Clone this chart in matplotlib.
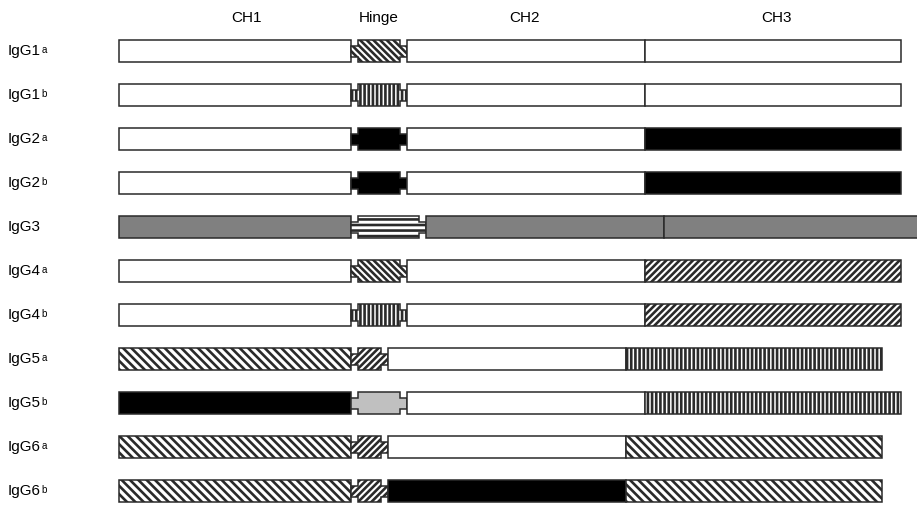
import matplotlib
matplotlib.use("Agg")
import matplotlib.pyplot as plt
from matplotlib.patches import Rectangle, Polygon

plt.rcParams['font.family'] = ['Liberation Sans', 'DejaVu Sans']
plt.rcParams['hatch.linewidth'] = 1.9

# ---- data ----
labels = ['IgG1', 'IgG1', 'IgG2', 'IgG2', 'IgG3', 'IgG4', 'IgG4',
          'IgG5', 'IgG5', 'IgG6', 'IgG6']
sups = ['a', 'b', 'a', 'b', '', 'a', 'b', 'a', 'b', 'a', 'b']
domains = ['CH1', 'Hinge', 'CH2', 'CH3']
domain_label_x = [247, 379, 525, 776]

ch1_start = [119, 119, 119, 119, 119, 119, 119, 119, 119, 119, 119]
ch1_end = [351, 351, 351, 351, 351, 351, 351, 351, 351, 351, 351]
hinge_end = [407, 407, 407, 407, 426, 407, 407, 388, 407, 388, 388]
ch2_end = [645, 645, 645, 645, 664, 645, 645, 626, 645, 626, 626]
ch3_end = [901, 901, 901, 901, 925, 901, 901, 882, 901, 882, 882]

ch1_style = ['w', 'w', 'w', 'w', 'g', 'w', 'w', 'bs', 'k', 'bs', 'bs']
hinge_style = ['bsh', 'vl', 'k', 'k', 'hl', 'bsh', 'vl', 'fs', 'lg', 'fs', 'fs']
ch2_style = ['w', 'w', 'w', 'w', 'g', 'w', 'w', 'w', 'w', 'w', 'k']
ch3_style = ['w', 'w', 'k', 'k', 'g', 'fsd', 'fsd', 'vl', 'vl', 'bs', 'bs']

# ---- styles ----
styles = {
    'w': dict(facecolor='white', hatch=None),
    'k': dict(facecolor='black', hatch=None),
    'g': dict(facecolor='#808080', hatch=None),
    'lg': dict(facecolor='#c0c0c0', hatch=None),
    'bs': dict(facecolor='white', hatch='\\' * 4),
    'bsh': dict(facecolor='white', hatch='\\' * 5),
    'fs': dict(facecolor='white', hatch='/' * 5),
    'fsd': dict(facecolor='white', hatch='/' * 5),
    'vl': dict(facecolor='white', hatch='||||'),
    'hl': dict(facecolor='white', hatch='---'),
}
EDGE = '#2a2a2a'
LW = 1.1
BAR_H = 22
TAB_H = 11
TAB_W = 7
ROW0 = 51
ROW_STEP = 44

W, H = 917, 505
fig = plt.figure(figsize=(W / 100, H / 100), dpi=100)
ax = fig.add_axes([0, 0, 1, 1])
ax.set_xlim(0, W)
ax.set_ylim(H, 0)
ax.axis('off')


def rect(x0, x1, yc, key):
    st = styles[key]
    ax.add_patch(Rectangle((x0, yc - BAR_H / 2), x1 - x0, BAR_H,
                           facecolor=st['facecolor'], hatch=st['hatch'],
                           edgecolor=EDGE, linewidth=LW))


def hinge(x0, x1, yc, key):
    st = styles[key]
    t, hh, bh = TAB_W, TAB_H / 2, BAR_H / 2
    pts = [(x0, yc - hh), (x0 + t, yc - hh), (x0 + t, yc - bh),
           (x1 - t, yc - bh), (x1 - t, yc - hh), (x1, yc - hh),
           (x1, yc + hh), (x1 - t, yc + hh), (x1 - t, yc + bh),
           (x0 + t, yc + bh), (x0 + t, yc + hh), (x0, yc + hh)]
    ax.add_patch(Polygon(pts, closed=True, facecolor=st['facecolor'],
                         hatch=st['hatch'], edgecolor=EDGE, linewidth=LW))


for i, name in enumerate(labels):
    yc = ROW0 + i * ROW_STEP
    rect(ch1_start[i], ch1_end[i], yc, ch1_style[i])
    hinge(ch1_end[i], hinge_end[i], yc, hinge_style[i])
    rect(hinge_end[i], ch2_end[i], yc, ch2_style[i])
    rect(ch2_end[i], ch3_end[i], yc, ch3_style[i])
    t = ax.text(8, yc, name, fontsize=11, ha='left', va='center')
    if sups[i]:
        ax.annotate(sups[i], xy=(1.0, 0.9), xycoords=t, xytext=(0.6, 0),
                    textcoords='offset points', fontsize=7, ha='left', va='top')

for lab, x in zip(domains, domain_label_x):
    ax.text(x, 18, lab, fontsize=11, ha='center', va='center')

fig.savefig('out.png', dpi=100, facecolor='white')
